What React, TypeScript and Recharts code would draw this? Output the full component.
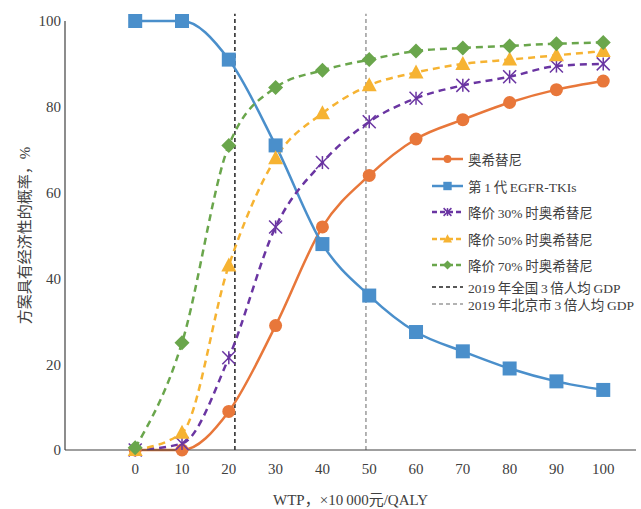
import React from "react";
import {
  LineChart,
  Line,
  XAxis,
  YAxis,
  ReferenceLine,
  Legend,
} from "recharts";

// WTP thresholds, ×10 000 yuan/QALY
const wtp = [0, 10, 20, 30, 40, 50, 60, 70, 80, 90, 100];
const xTickMarks = [-5, 5, 15, 25, 35, 45, 55, 65, 75, 85, 95, 105];
const yTicks = [0, 20, 40, 60, 80, 100];

// probability of being cost-effective, %
const osimertinib = [0, 0, 9, 29, 52, 64, 72.5, 77, 81, 84, 86];
const egfrTki = [100, 100, 91, 71, 48, 36, 27.5, 23, 19, 16, 14];
const cut30 = [0, 1.5, 21.5, 52, 67, 76.5, 82, 85, 87, 89.5, 90];
const cut50 = [0, 4, 43, 68, 78.5, 85, 88, 90, 91, 92, 93];
const cut70 = [0.5, 25, 71, 84.5, 88.5, 91, 93, 93.7, 94.2, 94.7, 95];

// 3x GDP per capita, 2019
const nationalGdp = 21.3;
const beijingGdp = 49.3;
const refTop = 101.7;

const FONT = '"Liberation Serif", "Noto Sans CJK SC", serif';
const TEXT = "#404040";

type Shape = "circle" | "square" | "asterisk" | "triangle" | "diamond";

const series: { key: string; name: string; color: string; dash?: string; shape: Shape }[] = [
  { key: "osimertinib", name: "奥希替尼", color: "#E8773A", shape: "circle" },
  { key: "egfrTki", name: "第\u20091\u2009代\u2009EGFR-TKIs", color: "#4A8FCB", shape: "square" },
  { key: "cut30", name: "降价\u200930%\u2009时奥希替尼", color: "#6A35A2", dash: "7 5", shape: "asterisk" },
  { key: "cut50", name: "降价\u200950%\u2009时奥希替尼", color: "#F6B332", dash: "7 5", shape: "triangle" },
  { key: "cut70", name: "降价\u200970%\u2009时奥希替尼", color: "#6AA64C", dash: "7 5", shape: "diamond" },
];

const refLines = [
  { name: "2019\u2009年全国\u20093\u2009倍人均\u2009GDP", x: nationalGdp, color: "#222222" },
  { name: "2019\u2009年北京市\u20093\u2009倍人均\u2009GDP", x: beijingGdp, color: "#9A9A9A" },
];

const chartData = wtp.map((w, i) => ({
  wtp: w,
  osimertinib: osimertinib[i],
  egfrTki: egfrTki[i],
  cut30: cut30[i],
  cut50: cut50[i],
  cut70: cut70[i],
}));

function Marker({ cx, cy, shape, color, s = 1 }: { cx: number; cy: number; shape: Shape; color: string; s?: number }) {
  if (cx == null || cy == null) return null;
  switch (shape) {
    case "circle":
      return <circle cx={cx} cy={cy} r={6.5 * s} fill={color} />;
    case "square":
      return <rect x={cx - 7 * s} y={cy - 7 * s} width={14 * s} height={14 * s} fill={color} />;
    case "triangle":
      return (
        <polygon
          points={`${cx},${cy - 8 * s} ${cx - 7.5 * s},${cy + 6 * s} ${cx + 7.5 * s},${cy + 6 * s}`}
          fill={color}
        />
      );
    case "diamond":
      return (
        <polygon
          points={`${cx},${cy - 7.5 * s} ${cx + 7.5 * s},${cy} ${cx},${cy + 7.5 * s} ${cx - 7.5 * s},${cy}`}
          fill={color}
        />
      );
    case "asterisk": {
      const r = 6.5 * s;
      return (
        <g stroke={color} strokeWidth={1.5}>
          <line x1={cx - r} y1={cy - r} x2={cx + r} y2={cy + r} />
          <line x1={cx - r} y1={cy + r} x2={cx + r} y2={cy - r} />
          <line x1={cx} y1={cy - r} x2={cx} y2={cy + r} />
        </g>
      );
    }
  }
  return null;
}

function renderDot(shape: Shape, color: string) {
  return (p: any) => <Marker key={`${shape}-${p.index}`} cx={p.cx} cy={p.cy} shape={shape} color={color} />;
}

function LegendBox() {
  const rows = [
    ...series.map((s) => ({ ...s, h: 26.5, dashIcon: s.dash ? "5 3" : undefined, ref: false })),
    ...refLines.map((r) => ({ key: r.name, name: r.name, color: r.color, shape: undefined, h: 17, dashIcon: "4 3", ref: true })),
  ];
  return (
    <div style={{ fontFamily: FONT, fontSize: 13.5, color: TEXT }}>
      {rows.map((r) => (
        <div key={r.key} style={{ display: "flex", alignItems: "center", height: r.h, whiteSpace: "nowrap" }}>
          <svg width={40} height={16} style={{ flex: "none" }}>
            <line
              x1={4}
              y1={8}
              x2={35}
              y2={8}
              stroke={r.color}
              strokeWidth={r.ref ? 1.5 : 2.5}
              strokeDasharray={r.dashIcon}
            />
            {r.shape && <Marker cx={19.5} cy={8} shape={r.shape as Shape} color={r.color} s={0.6} />}
          </svg>
          <span>{r.name}</span>
        </div>
      ))}
    </div>
  );
}

export default function App() {
  return (
    <div style={{ position: "absolute", left: 0, top: 0, background: "#fff" }}>
      <LineChart
        width={641}
        height={509}
        data={chartData}
        margin={{ top: 21, right: 5, bottom: 0, left: 0 }}
      >
        <XAxis
          xAxisId="tk"
          type="number"
          dataKey="wtp"
          domain={[-15, 107]}
          ticks={xTickMarks}
          tick={false}
          tickSize={5}
          mirror
          height={1}
          axisLine={{ stroke: TEXT, strokeWidth: 1.2 }}
          tickLine={{ stroke: TEXT }}
        />
        <XAxis
          type="number"
          dataKey="wtp"
          domain={[-15, 107]}
          ticks={wtp}
          tickLine={false}
          axisLine={false}
          tickSize={0}
          tickMargin={13}
          height={59}
          tick={{ fill: TEXT, fontSize: 15, fontFamily: FONT }}
          label={{
            value: "WTP，×10\u2009000元/QALY",
            position: "insideBottom",
            offset: 4,
            fill: TEXT,
            fontSize: 15,
            fontFamily: FONT,
          }}
        />
        <YAxis
          yAxisId="tk"
          type="number"
          domain={[0, 100]}
          ticks={yTicks}
          tick={false}
          tickSize={5}
          mirror
          width={1}
          axisLine={{ stroke: TEXT, strokeWidth: 1.2 }}
          tickLine={{ stroke: TEXT }}
        />
        <YAxis
          type="number"
          domain={[0, 100]}
          ticks={yTicks}
          tickLine={false}
          axisLine={false}
          tickSize={0}
          tickMargin={4}
          width={65}
          tick={{ fill: TEXT, fontSize: 15, fontFamily: FONT }}
          label={{
            content: (props: any) => {
              const vb = props.viewBox || {};
              const cx = (vb.x ?? 0) + 25;
              const cy = (vb.y ?? 0) + (vb.height ?? 0) / 2;
              return (
                <text
                  x={cx}
                  y={cy}
                  transform={`rotate(-90, ${cx}, ${cy})`}
                  textAnchor="middle"
                  dominantBaseline="central"
                  fill={TEXT}
                  fontSize={15}
                  fontFamily={FONT}
                >
                  方案具有经济性的概率，%
                </text>
              );
            },
          }}
        />
        {refLines.map((r) => (
          <ReferenceLine
            key={r.name}
            segment={[
              { x: r.x, y: 0 },
              { x: r.x, y: refTop },
            ]}
            ifOverflow="visible"
            stroke={r.color}
            strokeWidth={1.5}
            strokeDasharray="4 3"
          />
        ))}
        {series.map((s) => (
          <Line
            key={s.key}
            type="monotone"
            dataKey={s.key}
            name={s.name}
            stroke={s.color}
            strokeWidth={2.5}
            strokeDasharray={s.dash}
            dot={renderDot(s.shape, s.color)}
            activeDot={false}
            isAnimationActive={false}
          />
        ))}
        <Legend
          layout="vertical"
          align="center"
          verticalAlign="middle"
          content={() => <LegendBox />}
          wrapperStyle={{ left: 428, top: 146, width: 215, height: "auto" }}
        />
      </LineChart>
    </div>
  );
}
